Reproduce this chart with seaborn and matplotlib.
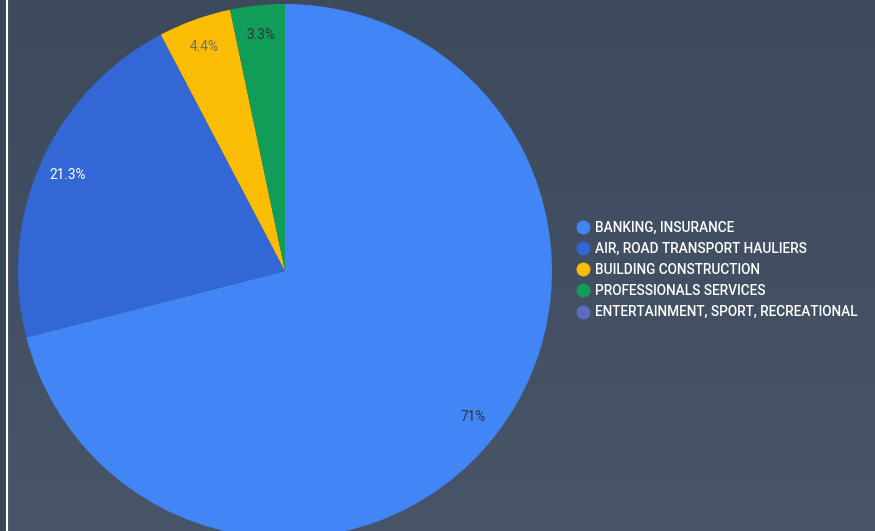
import numpy as np
import matplotlib.pyplot as plt
import seaborn as sns
from matplotlib.lines import Line2D

sns.set_theme(style="white")
plt.rcParams['font.family'] = ['Roboto', 'DejaVu Sans']

# data
sectors = ["BANKING, INSURANCE", "AIR, ROAD TRANSPORT HAULIERS",
           "BUILDING CONSTRUCTION", "PROFESSIONALS SERVICES",
           "ENTERTAINMENT, SPORT, RECREATIONAL"]
shares = [71.0, 21.3, 4.4, 3.3, 0.0]
colors = ["#4285f4", "#3367d6", "#fbbc04", "#0f9d58", "#5c6bc0"]
label_colors = ["#2b3340", "#ffffff", "#6b6b6b", "#2b3340", "#ffffff"]

fig = plt.figure(figsize=(8.75, 5.31), dpi=100)

# background gradient
bg = fig.add_axes([0, 0, 1, 1], zorder=-10)
grad = np.linspace(0, 1, 256).reshape(-1, 1)
top = np.array([61, 74, 92]) / 255
bot = np.array([72, 85, 105]) / 255
img = top + (bot - top) * grad[:, :, None]
bg.imshow(img, aspect="auto", extent=[0, 1, 0, 1], origin="upper")
bg.axvspan(0, 5 / 875, color="#3a4657")
bg.axvline(7 / 875, color="white", lw=1.5)
bg.set_xlim(0, 1)
bg.set_ylim(0, 1)
bg.axis("off")

# pie axes
W, H = 875, 531
cx, cy, r = 285, 271, 267
ax = fig.add_axes([(cx - r) / W, (H - cy - r) / H, 2 * r / W, 2 * r / H])
ax.set_facecolor("none")


def fmt(p):
    if p < 1:
        return ""
    s = f"{p:.1f}".rstrip("0").rstrip(".")
    return s + "%"


wedges, texts, autotexts = ax.pie(
    shares, colors=colors, startangle=90, counterclock=False,
    autopct=fmt, pctdistance=0.89, radius=1,
    wedgeprops=dict(linewidth=0), textprops=dict(fontsize=9.8),
)
for t, c in zip(autotexts, label_colors):
    t.set_color(c)
ax.set_xlim(-1, 1)
ax.set_ylim(-1, 1)
ax.axis("off")

handles = [Line2D([0], [0], marker="o", linestyle="", markersize=10,
                  markerfacecolor=c, markeredgewidth=0) for c in colors]
leg = fig.legend(handles, sectors, loc="upper left",
                 bbox_to_anchor=(577 / W, 1 - 221 / H),
                 frameon=False, fontsize=9.8, labelspacing=0.52,
                 handlelength=0.9, handletextpad=0.45, borderpad=0,
                 borderaxespad=0)
for t in leg.get_texts():
    t.set_color("white")
    t.set_fontweight("medium")

fig.savefig("out.png", dpi=100)
